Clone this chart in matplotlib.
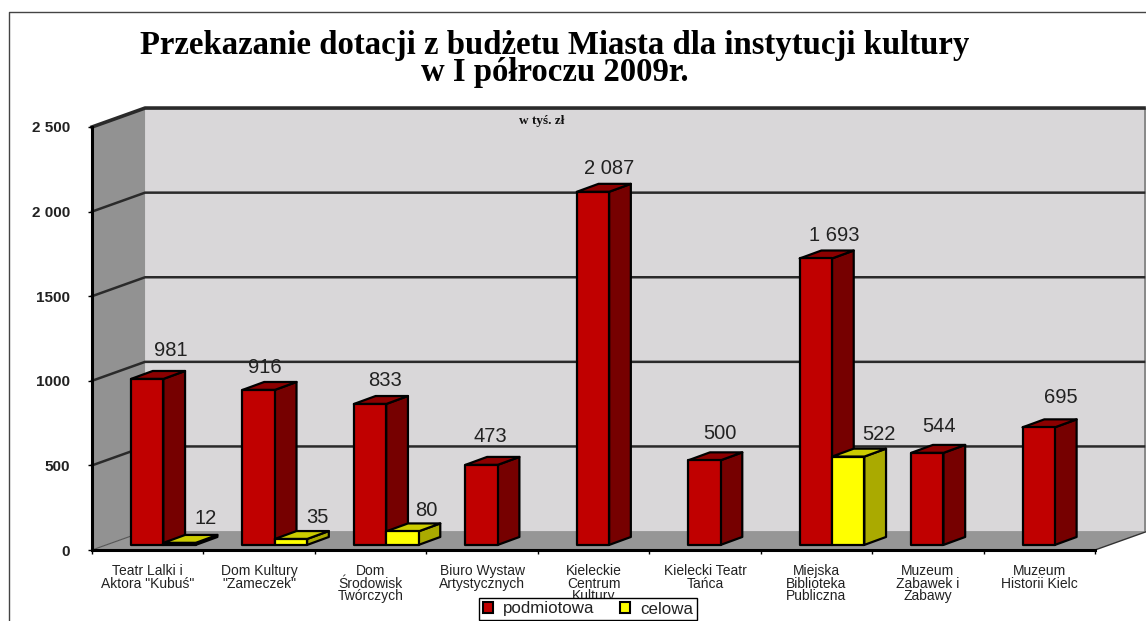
import matplotlib
matplotlib.use("Agg")
import matplotlib.pyplot as plt
from matplotlib.lines import Line2D
from matplotlib.patches import Patch, Polygon

categories = ['Teatr Lalki i\nAktora "Kubuś"', 'Dom Kultury\n"Zameczek"', 'Dom\nŚrodowisk\nTwórczych',
              'Biuro Wystaw\nArtystycznych', 'Kieleckie\nCentrum\nKultury', 'Kielecki Teatr\nTańca',
              'Miejska\nBiblioteka\nPubliczna', 'Muzeum\nZabawek i\nZabawy', 'Muzeum\nHistorii Kielc']
podmiotowa = [981, 916, 833, 473, 2087, 500, 1693, 544, 695]
celowa = [12, 35, 80, None, None, None, 522, None, None]
yticks = [0, 500, 1000, 1500, 2000, 2500]
ytick_labels = ["0", "500", "1000", "1500", "2 000", "2 500"]

# label offsets in pixels from the front top of each bar
red_label_off = [(24, 28), (6, 22), (15, 23), (9, 28), (16, 23), (16, 27), (18, 23), (12, 26), (22, 30)]
yellow_label_off = [(26, 24), (26, 22), (24, 21), None, None, None, (31, 22), None, None]

W, H = 1146, 621
WALL_DX, WALL_DY = 0.476, 112   # depth of the chart box, in data units
BAR_DX, BAR_DY = 0.195, 47      # depth of one bar
BAR_W, BAR_BASE = 0.29, 30
RED_X, YELLOW_X = 0.35, 0.64

plt.rcParams["font.family"] = ["Liberation Sans", "DejaVu Sans"]

fig = plt.figure(figsize=(W / 100, H / 100), dpi=100, facecolor="white")
ax = fig.add_axes([92 / W, (H - 550) / H, 1003 / W, 423 / H], facecolor="none")
ax.set_xlim(0, 9)
ax.set_ylim(0, 2500)


def poly(pts, color, edge="none", lw=0, z=1):
    ax.add_patch(Polygon(pts, closed=True, facecolor=color, edgecolor=edge, linewidth=lw,
                         clip_on=False, zorder=z, joinstyle="round"))


def draw_bar(x, val, front, side, top, z):
    x1 = x + BAR_W
    y0 = BAR_BASE
    y1 = BAR_BASE + val
    poly([(x1, y0), (x1 + BAR_DX, y0 + BAR_DY), (x1 + BAR_DX, y1 + BAR_DY), (x1, y1)], side, "black", 1.6, z)
    poly([(x, y1), (x1, y1), (x1 + BAR_DX, y1 + BAR_DY), (x + BAR_DX, y1 + BAR_DY)], top, "black", 1.6, z)
    poly([(x, y0), (x1, y0), (x1, y1), (x, y1)], front, "black", 1.6, z)


# walls and floor
right = 9.44
poly([(WALL_DX, WALL_DY), (right, WALL_DY), (right, 2500 + WALL_DY), (WALL_DX, 2500 + WALL_DY)], "#d9d7d9")
poly([(0, 0), (WALL_DX, WALL_DY), (WALL_DX, 2500 + WALL_DY), (0, 2500)], "#929292")
poly([(0, 0), (9, 0), (9 + WALL_DX, WALL_DY), (WALL_DX, WALL_DY)], "#969696", z=1.1)
poly([(right, WALL_DY), (9 + WALL_DX, WALL_DY), (9 + WALL_DX, 2500 + WALL_DY), (right, 2500 + WALL_DY)], "#8a8a8a")

for t in yticks[1:]:
    lw = 2.6 if t == 2500 else 1.8
    ax.plot([0, WALL_DX, right], [t, t + WALL_DY, t + WALL_DY], color="#2a2a2a", lw=lw,
            clip_on=False, zorder=1.2)
ax.plot([0, WALL_DX], [0, WALL_DY], color="#555555", lw=0.8, clip_on=False, zorder=1.15)
ax.plot([9, 9 + WALL_DX], [0, WALL_DY], color="#333333", lw=1.0, clip_on=False, zorder=1.2)

# bars
for i, val in enumerate(podmiotowa):
    z = 2 + i * 0.1
    draw_bar(i + RED_X, val, "#c00000", "#760000", "#8c0000", z)
    ax.annotate(f"{val:,}".replace(",", " "), (i + RED_X + BAR_W / 2, BAR_BASE + val),
                xytext=red_label_off[i], textcoords="offset pixels", ha="center", va="center",
                fontsize=14.5, color="#222222", zorder=5, annotation_clip=False)
    if celowa[i] is not None:
        draw_bar(i + YELLOW_X, celowa[i], "#ffff00", "#aaaa00", "#cccc00", z + 0.05)
        ax.annotate(str(celowa[i]), (i + YELLOW_X + BAR_W / 2, BAR_BASE + celowa[i]),
                    xytext=yellow_label_off[i], textcoords="offset pixels", ha="center", va="center",
                    fontsize=14.5, color="#222222", zorder=5, annotation_clip=False)

# axes
for s in ["top", "right"]:
    ax.spines[s].set_visible(False)
ax.spines["left"].set_linewidth(2.2)
ax.spines["bottom"].set_linewidth(2.2)
ax.set_yticks(yticks)
ax.set_yticklabels(ytick_labels, fontsize=11, fontweight="bold", color="#222222")
ax.tick_params(axis="y", length=3, width=1, pad=13)
ax.set_xticks(range(10))
ax.set_xticklabels([])
ax.tick_params(axis="x", which="major", length=3, width=1)
ax.set_xticks([i + 0.5 for i in range(9)], minor=True)
ax.set_xticklabels(categories, minor=True, fontsize=10, color="#222222", linespacing=0.88)
ax.tick_params(axis="x", which="minor", length=0, pad=10)

# title and unit note
fig.text(555 / W, 1 - 59 / H, "Przekazanie dotacji z budżetu Miasta dla instytucji kultury\nw I półroczu 2009r.",
         ha="center", va="center", family=["Liberation Serif"], fontweight="bold", fontsize=23.6,
         linespacing=0.85, color="black")
fig.text(542 / W, 1 - 121 / H, "w tyś. zł", ha="center", va="center", family=["Liberation Serif"],
         fontweight="bold", fontsize=9.5, color="#111111")

# outer frame
fig.add_artist(Line2D([9 / W, 9 / W, 1], [0, 1 - 12 / H, 1 - 12 / H], color="#444444", lw=1))

handles = [Patch(facecolor="#c00000", edgecolor="black", linewidth=1.5),
           Patch(facecolor="#ffff00", edgecolor="black", linewidth=1.5)]
leg = fig.legend(handles, ["podmiotowa", "celowa"], loc="center", bbox_to_anchor=(588 / W, 1 - 609 / H),
                 ncol=2, fontsize=12.2, frameon=True, fancybox=False, edgecolor="black", framealpha=1,
                 handlelength=0.6, handleheight=0.6, columnspacing=1.5, handletextpad=0.6,
                 borderpad=0.22, borderaxespad=0, labelcolor="#222222")
leg.get_frame().set_linewidth(1)

fig.savefig("out.png", dpi=100)
